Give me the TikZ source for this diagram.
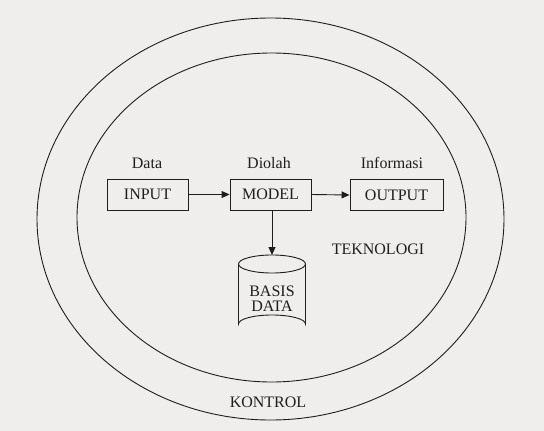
\documentclass[tikz,border=0pt]{standalone}
\usepackage{fontspec}
\setmainfont{Liberation Serif}
\usetikzlibrary{arrows.meta}
\definecolor{bg}{RGB}{240,238,236}
\definecolor{ink}{RGB}{30,30,30}
\tikzset{
  boxnode/.style={draw=ink, line width=0.9pt, minimum width=81pt, minimum height=31pt, inner sep=0pt, font=\fontsize{16}{18}\selectfont, text=ink},
  lbl/.style={font=\fontsize{16}{18}\selectfont, text=ink, inner sep=0pt},
  ring/.style={draw=ink, line width=0.9pt},
  conn/.style={draw=ink, line width=0.9pt, -{Triangle[length=8pt,width=7pt]}}
}
\begin{document}
\begin{tikzpicture}[x=1pt,y=-1pt]
\fill[bg] (0,0) rectangle (544,431);
\useasboundingbox (0,0) rectangle (544,431);
% ellipses
\draw[ring] (270.5,219) ellipse [x radius=233.5, y radius=201];
\draw[ring] (271.5,217.5) ellipse [x radius=194.5, y radius=164.5];
% boxes
\node[boxnode] (input) at (147.5,194.5) {INPUT};
\node[boxnode] (model) at (270.5,194.5) {MODEL};
\node[boxnode, minimum width=93pt] (output) at (396.5,195) {OUTPUT};
% labels
\node[lbl] (ldata) at (147,163) {Data};
\node[lbl] (ldiolah) at (269,163) {Diolah};
\node[lbl] (linfo) at (392,163) {Informasi};
\node[lbl] (tek) at (378,249) {TEKNOLOGI};
\node[lbl] (kon) at (268,402) {KONTROL};
% cylinder
\draw[ring] (238.5,264) arc[start angle=180, end angle=-180, x radius=33.5, y radius=9];
\draw[ring] (238.5,264) -- (238.5,324) arc[start angle=180, end angle=360, x radius=33.5, y radius=9] -- (305.5,264);
\coordinate (dbtop) at (272,255);
\node[lbl, align=center] (db) at (272,298.5) {BASIS\\[-3pt]DATA};
% connectors
\draw[conn] (input.east) -- (model.west);
\draw[conn] (model.east) -- (output.west);
\draw[conn] (model.south -| dbtop) -- (dbtop);
\end{tikzpicture}
\end{document}
